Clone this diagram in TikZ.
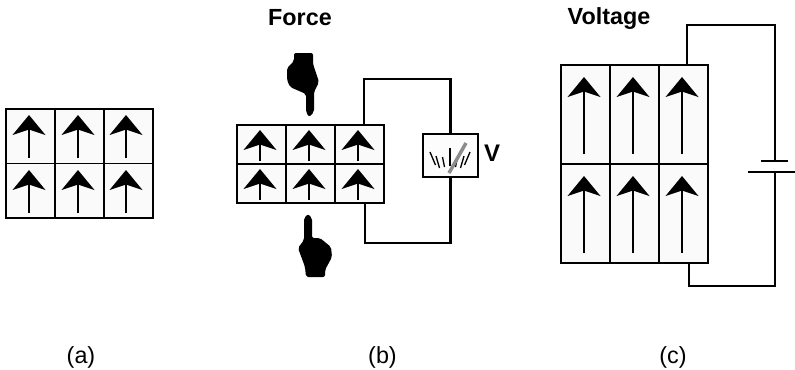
\documentclass[tikz,border=0pt]{standalone}
\usepackage{fontspec}
\setmainfont{Liberation Sans}
\tikzset{
    wire/.style={line width=1.8pt},
    grid line/.style={line width=1.3pt},
    cell fill/.style={fill=black!2},
    title/.style={font=\bfseries\fontsize{17.5}{20}\selectfont},
    caption/.style={font=\fontsize{17.5}{20}\selectfont}
}
% one polarised cell: foot of the arrow at (#1,#2), length #3
\newcommand{\polarrow}[3]{
    \draw[line width=1.2pt] (#1,#2) -- (#1,#2-#3+14);
    \fill (#1,#2-#3) -- (#1+16.5,#2-#3+20) -- (#1,#2-#3+14.5) -- (#1-16.5,#2-#3+20) -- cycle;
}
\begin{document}
\begin{tikzpicture}[x=0.75pt,y=-0.75pt]
    \useasboundingbox (0,0) rectangle (795,369);

    % (a)
    \fill[cell fill] (6,109) rectangle (153,218);
    \draw[grid line] (6,109) rectangle (153,218);
    \draw[grid line] (55,109) -- (55,218);
    \draw[grid line] (104,109) -- (104,218);
    \draw[grid line] (6,163.5) -- (153,163.5);
    \foreach \x in {29,78,126}{
        \polarrow{\x}{158}{43}
        \polarrow{\x}{213}{43}
    }

    % (b)
    \fill[cell fill] (237,125) rectangle (384,203);
    \draw[grid line] (237,125) rectangle (384,203);
    \draw[grid line] (286,125) -- (286,203);
    \draw[grid line] (335,125) -- (335,203);
    \draw[grid line] (237,164) -- (384,164);
    \foreach \x in {260,309,358}{
        \polarrow{\x}{161}{31}
        \polarrow{\x}{200}{31}
    }

    % meter
    \node[draw,line width=1.8pt,fill=black!1,minimum width=41pt,minimum height=32pt,inner sep=0pt] (meter) at (450.5,155.5) {};
    \draw[wire] (364,125) -- (364,79) -- (450.5,79) -- (meter.north);
    \draw[wire] (meter.south) -- (450.5,243) -- (365,243) -- (365,203);
    \draw[line width=1pt] (450,166) -- (450,148);
    \foreach \s in {-1,1}{
        \draw[line width=1pt] (450+\s*14.5,165) -- (450+\s*20,152);
        \draw[line width=1pt] (450+\s*10.5,168) -- (450+\s*14,156);
        \draw[line width=1pt] (450+\s*5.5,167) -- (450+\s*7.5,157);
    }
    \draw[line width=2.6pt,black!45] (449,173) -- (466,143);
    \node[title,font=\bfseries\fontsize{18}{20}\selectfont] (vlabel) at (492,153) {V};

    % hands
    \fill[rounded corners=1.5pt] (309,117) -- (306,112) -- (306,94) -- (290,87) -- (287,80) -- (287,68) -- (294,61) -- (294,53) -- (313,53) -- (313,64) -- (319,82) -- (314,92) -- (314,112) -- cycle;
    \fill[rounded corners=1.5pt] (308,214) -- (304,218) -- (304,240) -- (298,248) -- (305,267) -- (306,277) -- (325,277) -- (325,270) -- (332,257) -- (331,247) -- (320,238) -- (312,238) -- (312,218) -- cycle;

    % (c)
    \fill[cell fill] (561,65) rectangle (708,263);
    \draw[grid line] (561,65) rectangle (708,263);
    \draw[grid line] (610,65) -- (610,263);
    \draw[grid line] (659,65) -- (659,263);
    \draw[grid line] (561,164) -- (708,164);
    \foreach \x in {584,633,682}{
        \polarrow{\x}{154}{77}
        \polarrow{\x}{253}{77}
    }
    \coordinate (plateshort) at (775,161);
    \coordinate (platelong) at (775,172);
    \draw[wire] (687,65) -- (687,25) -- (775,25) -- (plateshort);
    \draw[wire] (platelong) -- (775,286) -- (689,286) -- (689,263);
    \draw[wire] (761,161) -- (788,161);
    \draw[wire] (748,172) -- (795,172);

    % labels
    \node[title] (force) at (300,18) {Force};
    \node[title] (voltage) at (609,19) {Voltage};
    \node[caption] (capa) at (81,357) {(a)};
    \node[caption] (capb) at (382.5,357) {(b)};
    \node[caption] (capc) at (673,357) {(c)};
\end{tikzpicture}
\end{document}
